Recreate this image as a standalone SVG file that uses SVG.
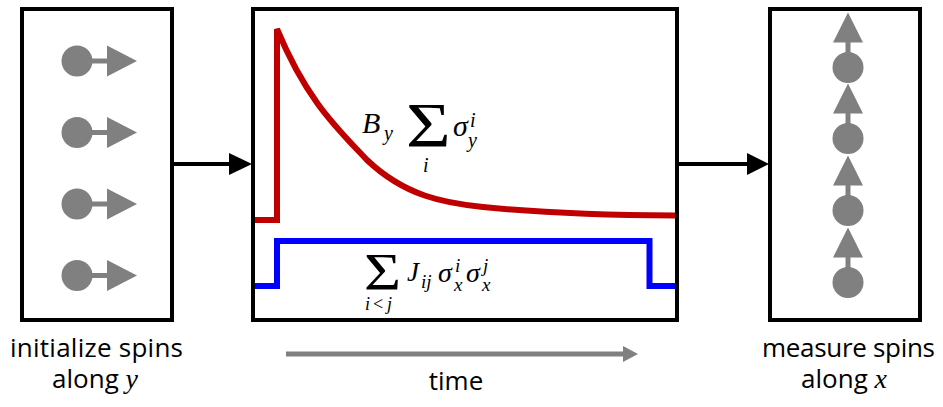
<svg xmlns="http://www.w3.org/2000/svg" width="943" height="407" viewBox="0 0 943 407">
<style>
.box{fill:#fff;stroke:#000;stroke-width:4}
.spin{fill:#808080}
.stem{stroke:#808080;stroke-width:5}
.conn{stroke:#000;stroke-width:4;fill:none}
.head{fill:#000}
.lbl{font-family:"Open Sans","Noto Sans",sans-serif;font-size:26px;fill:#000}
.mi{font-family:"Liberation Serif","DejaVu Serif",serif;font-style:italic;fill:#000}
.mr{font-family:"Liberation Serif","DejaVu Serif",serif;font-style:normal;fill:#000}
</style>
<rect width="943" height="407" fill="#fff"/>
<g id="init">
<rect class="box" x="22" y="9" width="150" height="311"/>
<g id="spinsL">
<g transform="translate(77,61)"><circle class="spin" r="15.5"/><line class="stem" x1="10" y1="0" x2="31" y2="0"/><polygon class="spin" points="30,-15.5 60,0 30,15.5"/></g>
<g transform="translate(77,132.5)"><circle class="spin" r="15.5"/><line class="stem" x1="10" y1="0" x2="31" y2="0"/><polygon class="spin" points="30,-15.5 60,0 30,15.5"/></g>
<g transform="translate(77,204)"><circle class="spin" r="15.5"/><line class="stem" x1="10" y1="0" x2="31" y2="0"/><polygon class="spin" points="30,-15.5 60,0 30,15.5"/></g>
<g transform="translate(77,275.5)"><circle class="spin" r="15.5"/><line class="stem" x1="10" y1="0" x2="31" y2="0"/><polygon class="spin" points="30,-15.5 60,0 30,15.5"/></g>
</g>
<text class="lbl" x="96.5" y="357" text-anchor="middle" textLength="173">initialize spins</text>
<text class="lbl" x="95" y="388" text-anchor="middle">along <tspan class="mi" font-size="28">y</tspan></text>
</g>
<g id="evolve">
<rect class="box" x="253" y="9" width="424" height="311"/>
<path fill="none" stroke="#c00000" stroke-width="6" stroke-linejoin="miter" d="M255,220 H277 V29 C307,101 337,128 367,160 C405,196 444,203 483,207 C547,213.4 611,215.2 675,215.5"/>
<polyline fill="none" stroke="#0000ff" stroke-width="6" points="255,286 277,286 277,241 649.5,241 649.5,286 675,286"/>
<g id="eqB">
<text class="mi" x="362" y="133" font-size="30">B</text>
<text class="mi" x="384" y="140" font-size="20">y</text>
<text class="mr" font-size="63" transform="translate(406,147) scale(1.22,1)">Σ</text>
<text class="mi" x="423" y="172" font-size="20">i</text>
<text class="mi" x="453" y="136" font-size="30">σ</text>
<text class="mi" x="470" y="127" font-size="20">i</text>
<text class="mi" x="468" y="147" font-size="20">y</text>
</g>
<g id="eqJ">
<text class="mr" font-size="53" transform="translate(364,290) scale(1.2,1)">Σ</text>
<text class="mi" x="365" y="310" font-size="18">i</text>
<text class="mr" x="373" y="310" font-size="18">&lt;</text>
<text class="mi" x="387" y="310" font-size="18">j</text>
<text class="mi" x="407" y="281" font-size="27">J</text>
<text class="mi" x="421" y="288" font-size="19">ij</text>
<text class="mi" x="438" y="282" font-size="28">σ</text>
<text class="mi" x="455" y="272" font-size="19">i</text>
<text class="mi" x="454" y="291" font-size="19">x</text>
<text class="mi" x="466" y="282" font-size="28">σ</text>
<text class="mi" x="483" y="272" font-size="19">j</text>
<text class="mi" x="482" y="291" font-size="19">x</text>
</g>
<line stroke="#808080" stroke-width="5" x1="286" y1="354" x2="624" y2="354"/>
<polygon fill="#808080" points="623,346 638,354 623,362"/>
<text class="lbl" x="456" y="390" text-anchor="middle">time</text>
</g>
<g id="measure">
<rect class="box" x="770" y="9" width="150" height="311"/>
<g id="spinsR">
<g transform="translate(848,67.5)"><circle class="spin" r="15.5"/><line class="stem" x1="0" y1="-10" x2="0" y2="-26"/><polygon class="spin" points="-15,-25 0,-55 15,-25"/></g>
<g transform="translate(848,138.5)"><circle class="spin" r="15.5"/><line class="stem" x1="0" y1="-10" x2="0" y2="-26"/><polygon class="spin" points="-15,-25 0,-55 15,-25"/></g>
<g transform="translate(848,210.5)"><circle class="spin" r="15.5"/><line class="stem" x1="0" y1="-10" x2="0" y2="-26"/><polygon class="spin" points="-15,-25 0,-55 15,-25"/></g>
<g transform="translate(848,282.5)"><circle class="spin" r="15.5"/><line class="stem" x1="0" y1="-10" x2="0" y2="-26"/><polygon class="spin" points="-15,-25 0,-55 15,-25"/></g>
</g>
<text class="lbl" x="848.5" y="357" text-anchor="middle" textLength="173">measure spins</text>
<text class="lbl" x="844" y="388" text-anchor="middle">along <tspan class="mi" font-size="28">x</tspan></text>
</g>
<g id="connectors">
<line class="conn" x1="174" y1="164" x2="231" y2="164"/>
<polygon class="head" points="229,153 252,164 229,175"/>
<line class="conn" x1="679" y1="164" x2="749" y2="164"/>
<polygon class="head" points="747,153 769,164 747,175"/>
</g>
</svg>
